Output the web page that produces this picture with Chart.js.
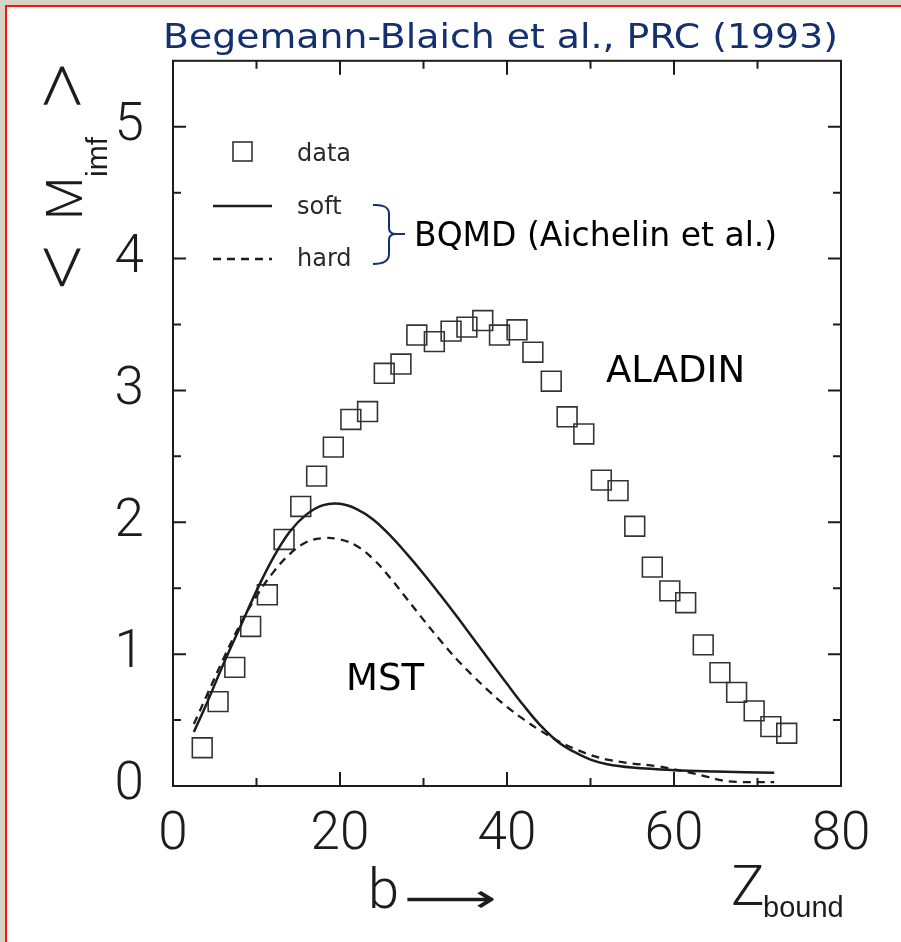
<!DOCTYPE html>
<html>
<head>
<meta charset="utf-8">
<script src="https://cdn.jsdelivr.net/npm/chart.js@4.4.1/dist/chart.umd.min.js"></script>
<style>
  html, body { margin: 0; padding: 0; background: #fff; }
  #wrap { width: 901px; height: 942px; }
</style>
</head>
<body>
<div id="wrap"><canvas id="imfChart" width="901" height="942"></canvas></div>
<script>
// measured <M_imf> versus Z_bound
const zBound = [3.5, 5.4, 7.4, 9.3, 11.3, 13.3, 15.3, 17.2, 19.2, 21.3, 23.3, 25.3, 27.3, 29.2, 31.3, 33.3, 35.2, 37.1,
                39.1, 41.2, 43.1, 45.3, 47.2, 49.2, 51.3, 53.3, 55.3, 57.4, 59.5, 61.4, 63.5, 65.5, 67.5, 69.6, 71.6, 73.5];
const mImf = [0.29, 0.64, 0.90, 1.21, 1.45, 1.87, 2.12, 2.35, 2.57, 2.78, 2.84, 3.13, 3.20, 3.42, 3.37, 3.45, 3.48, 3.53,
              3.42, 3.46, 3.29, 3.07, 2.80, 2.67, 2.32, 2.24, 1.97, 1.66, 1.48, 1.39, 1.07, 0.86, 0.71, 0.57, 0.45, 0.40];

// BQMD + MST, soft equation of state
const softZ = [2.5, 4, 6, 8, 10, 12, 14, 16, 18, 20, 22, 24, 26, 28, 30, 32, 34, 36, 38, 40, 42, 44, 46, 48, 50, 52, 55, 60, 65, 72];
const softM = [0.41, 0.62, 0.92, 1.20, 1.48, 1.73, 1.93, 2.06, 2.13, 2.14, 2.10, 2.02, 1.90, 1.76, 1.61, 1.45, 1.285, 1.115,
               0.945, 0.775, 0.61, 0.46, 0.34, 0.26, 0.20, 0.165, 0.14, 0.12, 0.11, 0.10];

// BQMD + MST, hard equation of state
const hardZ = [2.5, 4, 6, 8, 10, 12, 14, 16, 18, 20, 22, 24, 26, 28, 30, 32, 34, 36, 38, 40, 42, 44, 46, 48, 50, 52, 55, 58, 62, 64, 66, 68, 72];
const hardM = [0.47, 0.68, 0.96, 1.22, 1.44, 1.62, 1.76, 1.85, 1.88, 1.87, 1.82, 1.72, 1.58, 1.42, 1.26, 1.105, 0.96, 0.83,
               0.71, 0.60, 0.505, 0.42, 0.345, 0.285, 0.235, 0.20, 0.17, 0.15, 0.10, 0.07, 0.04, 0.03, 0.03];

const xTicks = [0, 20, 40, 60, 80];
const xMinor = [10, 30, 50, 70];
const yTicks = [0, 1, 2, 3, 4, 5];
const yMinor = [0.5, 1.5, 2.5, 3.5, 4.5];

const ink = "#1c1c1c";
const navy = "#14306e";
const thin = "'Roboto', 'Liberation Sans', sans-serif";

function pts(xs, ys) {
    return xs.map((x, i) => ({ x: x, y: ys[i] }));
}

function txt(ctx, s, x, y, font, color) {
    ctx.font = font;
    ctx.fillStyle = color;
    ctx.fillText(s, x, y);
}

// squeeze or stretch a string horizontally to a given width
function fitText(ctx, s, x, y, w, font, color) {
    ctx.font = font;
    ctx.fillStyle = color;
    const m = ctx.measureText(s).width;
    ctx.save();
    ctx.translate(x, y);
    ctx.scale(w / m, 1);
    ctx.fillText(s, 0, 0);
    ctx.restore();
}

// slide background with the red frame on top and left
const backdrop = {
    id: "backdrop",
    beforeDraw(chart) {
        const ctx = chart.ctx;
        ctx.save();
        ctx.fillStyle = "#fff";
        ctx.fillRect(0, 0, chart.width, chart.height);
        ctx.fillStyle = "#d6d3c4";
        ctx.fillRect(0, 0, chart.width, 5);
        ctx.fillRect(0, 0, 5, chart.height);
        ctx.fillStyle = "#ff1010";
        ctx.fillRect(5, 5, chart.width - 5, 2);
        ctx.fillRect(5, 5, 2, chart.height - 5);
        ctx.restore();
    }
};

// boxed frame with inward ticks on all four sides
const frame = {
    id: "frame",
    afterDatasetsDraw(chart) {
        const ctx = chart.ctx;
        const a = chart.chartArea;
        const xs = chart.scales.x, ys = chart.scales.y;
        ctx.save();
        ctx.strokeStyle = ink;
        ctx.lineWidth = 2;
        ctx.strokeRect(a.left, a.top, a.right - a.left, a.bottom - a.top);
        ctx.beginPath();
        const xt = (v, len) => {
            const p = xs.getPixelForValue(v);
            ctx.moveTo(p, a.bottom); ctx.lineTo(p, a.bottom - len);
            ctx.moveTo(p, a.top); ctx.lineTo(p, a.top + len);
        };
        const yt = (v, len) => {
            const p = ys.getPixelForValue(v);
            ctx.moveTo(a.left, p); ctx.lineTo(a.left + len, p);
            ctx.moveTo(a.right, p); ctx.lineTo(a.right - len, p);
        };
        xTicks.forEach(v => xt(v, 14));
        xMinor.forEach(v => xt(v, 8));
        yTicks.forEach(v => yt(v, 13));
        yMinor.forEach(v => yt(v, 8));
        ctx.stroke();
        ctx.restore();
    }
};

// axis titles, legend and annotations
const labels = {
    id: "labels",
    afterDraw(chart) {
        const ctx = chart.ctx;
        ctx.save();
        ctx.textBaseline = "alphabetic";
        ctx.textAlign = "left";

        fitText(ctx, "Begemann-Blaich et al., PRC (1993)", 163, 48, 675, "34px 'DejaVu Sans'", navy);

        // legend
        ctx.strokeStyle = "#333";
        ctx.lineWidth = 1.6;
        ctx.strokeRect(233, 142, 19, 19);
        ctx.strokeStyle = ink;
        ctx.lineWidth = 2.5;
        ctx.beginPath(); ctx.moveTo(213, 206); ctx.lineTo(272, 206); ctx.stroke();
        ctx.setLineDash([8, 6]);
        ctx.beginPath(); ctx.moveTo(213, 259); ctx.lineTo(272, 259); ctx.stroke();
        ctx.setLineDash([]);
        const lf = "24px 'DejaVu Sans'";
        txt(ctx, "data", 297, 161, lf, "#2a2a2a");
        txt(ctx, "soft", 297, 214, lf, "#2a2a2a");
        txt(ctx, "hard", 297, 266, lf, "#2a2a2a");

        // brace grouping the two model curves
        ctx.strokeStyle = navy;
        ctx.lineWidth = 2;
        ctx.beginPath();
        ctx.moveTo(373, 205);
        ctx.quadraticCurveTo(389, 204, 389, 214);
        ctx.lineTo(389, 228);
        ctx.quadraticCurveTo(389, 234, 396, 234);
        ctx.lineTo(405, 234);
        ctx.moveTo(396, 234);
        ctx.quadraticCurveTo(389, 234, 389, 240);
        ctx.lineTo(389, 254);
        ctx.quadraticCurveTo(389, 264, 373, 264);
        ctx.stroke();
        txt(ctx, "BQMD (Aichelin et al.)", 414, 246, "33px 'DejaVu Sans'", "#000");

        txt(ctx, "ALADIN", 606, 382, "37px 'DejaVu Sans'", "#000");
        txt(ctx, "MST", 346, 690, "37px 'DejaVu Sans'", "#000");

        // y title, reading upwards
        ctx.save();
        ctx.translate(82, 283);
        ctx.rotate(-Math.PI / 2);
        txt(ctx, "<", -7, 10, "200 93px " + thin, ink);
        txt(ctx, "M", 63, 0, "300 50px " + thin, ink);
        txt(ctx, "imf", 106, 25, "30px 'Liberation Sans'", ink);
        txt(ctx, ">", 173, 10, "200 93px " + thin, ink);
        ctx.restore();

        // x title
        txt(ctx, "b", 368, 908, "300 56px " + thin, ink);
        fitText(ctx, "\u27F6", 404, 912, 93, "40px 'DejaVu Sans'", ink);
        txt(ctx, "Z", 731, 905, "300 56px " + thin, ink);
        txt(ctx, "bound", 763, 917, "29px 'Liberation Sans'", ink);
        ctx.restore();
    }
};

new Chart(document.getElementById("imfChart"), {
    type: "scatter",
    data: {
        datasets: [
            {
                label: "soft",
                data: pts(softZ, softM),
                showLine: true,
                tension: 0.4,
                borderColor: ink,
                borderWidth: 2.5,
                pointRadius: 0
            },
            {
                label: "hard",
                data: pts(hardZ, hardM),
                showLine: true,
                tension: 0.4,
                borderColor: ink,
                borderWidth: 2.3,
                borderDash: [8, 6],
                pointRadius: 0
            },
            {
                label: "data",
                data: pts(zBound, mImf),
                showLine: false,
                pointStyle: "rect",
                pointRadius: 14,
                pointBorderWidth: 1.6,
                borderColor: "#333",
                backgroundColor: "rgba(0,0,0,0)"
            }
        ]
    },
    options: {
        responsive: false,
        animation: false,
        events: [],
        layout: { padding: { left: 0, top: 60, right: 60, bottom: 0 } },
        plugins: { legend: { display: false }, tooltip: { enabled: false } },
        scales: {
            x: {
                type: "linear",
                min: 0,
                max: 80,
                grid: { display: false, drawTicks: false },
                border: { display: false },
                afterBuildTicks: s => { s.ticks = xTicks.map(v => ({ value: v })); },
                afterFit: s => { s.height = 156; },
                ticks: {
                    color: ink,
                    padding: 18,
                    maxRotation: 0,
                    font: { family: thin, size: 53, weight: "300" }
                }
            },
            y: {
                type: "linear",
                min: 0,
                max: 5.5,
                grid: { display: false, drawTicks: false },
                border: { display: false },
                afterBuildTicks: s => { s.ticks = yTicks.map(v => ({ value: v })); },
                afterFit: s => { s.width = 173; },
                ticks: {
                    color: ink,
                    padding: 29,
                    font: { family: thin, size: 53, weight: "300" }
                }
            }
        }
    },
    plugins: [backdrop, frame, labels]
});
</script>
</body>
</html>
